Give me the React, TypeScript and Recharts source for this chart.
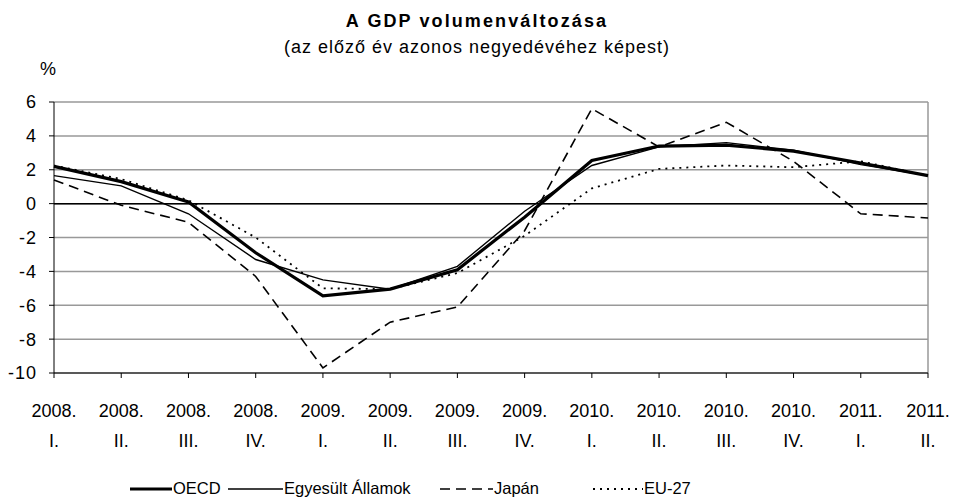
import React from "react";
import {
  LineChart,
  Line,
  XAxis,
  YAxis,
  CartesianGrid,
  ReferenceLine,
} from "recharts";

// quarters (year + roman quarter)
const years = [
  "2008.", "2008.", "2008.", "2008.",
  "2009.", "2009.", "2009.", "2009.",
  "2010.", "2010.", "2010.", "2010.",
  "2011.", "2011.",
];
const quarters = ["I.", "II.", "III.", "IV.", "I.", "II.", "III.", "IV.", "I.", "II.", "III.", "IV.", "I.", "II."];

const oecd = [2.2, 1.3, 0.1, -2.9, -5.45, -5.05, -3.9, -0.8, 2.55, 3.4, 3.45, 3.1, 2.4, 1.65];
const usa = [1.65, 1.05, -0.6, -3.3, -4.5, -5.05, -3.7, -0.45, 2.25, 3.35, 3.6, 3.15, 2.3, 1.65];
const japan = [1.4, -0.1, -1.1, -4.3, -9.7, -7.0, -6.1, -1.6, 5.6, 3.35, 4.8, 2.5, -0.6, -0.85];
const eu27 = [2.25, 1.45, 0.2, -2.0, -5.0, -5.05, -4.1, -1.9, 0.9, 2.05, 2.25, 2.15, 2.5, 1.65];

const yTicks = [-10, -8, -6, -4, -2, 0, 2, 4, 6];

const FONT = '"Liberation Sans", Arial, sans-serif';

const data = years.map((y, i) => ({
  key: `${y} ${quarters[i]}`,
  year: y,
  quarter: quarters[i],
  OECD: oecd[i],
  "Egyesült Államok": usa[i],
  "Japán": japan[i],
  "EU-27": eu27[i],
}));

const series = [
  { name: "OECD", width: 3.2, dash: undefined as string | undefined },
  { name: "Egyesült Államok", width: 1.4, dash: undefined as string | undefined },
  { name: "Japán", width: 1.6, dash: "10 6" },
  { name: "EU-27", width: 1.8, dash: "2 5" },
];

// legend layout (line start, line length)
const legendItems = [
  { name: "OECD", x: 130, len: 42 },
  { name: "Egyesült Államok", x: 228, len: 55 },
  { name: "Japán", x: 440, len: 53 },
  { name: "EU-27", x: 593, len: 50 },
];

const QuarterTick = (props: any) => {
  const { x, y, payload } = props;
  const row = data[payload.index] || data.find((d) => d.key === payload.value);
  return (
    <g transform={`translate(${x},${y})`}>
      <text x={0} y={39} textAnchor="middle" fontSize={18} fontFamily={FONT} fill="#000">
        {row ? row.year : ""}
      </text>
      <text x={0} y={69} textAnchor="middle" fontSize={18} fontFamily={FONT} fill="#000">
        {row ? row.quarter : ""}
      </text>
    </g>
  );
};

export default function App() {
  return (
    <div style={{ position: "absolute", left: 0, top: 0, width: 955, height: 497, background: "#fff" }}>
      <LineChart
        width={955}
        height={497}
        data={data}
        margin={{ top: 102, right: 27, left: 0, bottom: 94 }}
      >
        <CartesianGrid vertical={false} stroke="#999" strokeWidth={1.5} />
        <XAxis
          dataKey="key"
          height={30}
          interval={0}
          tick={<QuarterTick />}
          tickSize={5}
          tickMargin={0}
          stroke="#000"
          padding={{ left: 0, right: 0 }}
        />
        <YAxis
          width={54}
          domain={[-10, 6]}
          ticks={yTicks}
          interval={0}
          tickSize={5}
          tickMargin={12}
          stroke="#000"
          tick={{ fontSize: 18, fontFamily: FONT, fill: "#000", letterSpacing: 1 }}
        />
        <ReferenceLine y={0} stroke="#000" strokeWidth={1.5} />
        <ReferenceLine x={data[data.length - 1].key} stroke="#999" strokeWidth={1.5} />
        {series.map((s) => (
          <Line
            key={s.name}
            dataKey={s.name}
            type="linear"
            stroke="#000"
            strokeWidth={s.width}
            strokeDasharray={s.dash}
            dot={false}
            activeDot={false}
            isAnimationActive={false}
          />
        ))}
      </LineChart>
      <svg
        width={955}
        height={497}
        style={{ position: "absolute", left: 0, top: 0, pointerEvents: "none" }}
      >
        <text x={477} y={27} textAnchor="middle" fontSize={18} fontWeight="bold" fontFamily={FONT} letterSpacing={2.1}>
          A GDP volumenváltozása
        </text>
        <text x={477} y={53} textAnchor="middle" fontSize={18} fontFamily={FONT} letterSpacing={1}>
          (az előző év azonos negyedévéhez képest)
        </text>
        <text x={48} y={75} textAnchor="middle" fontSize={18} fontFamily={FONT}>
          %
        </text>
        {legendItems.map((it) => {
          const s = series.find((q) => q.name === it.name)!;
          return (
            <g key={it.name}>
              <line
                x1={it.x}
                x2={it.x + it.len}
                y1={489}
                y2={489}
                stroke="#000"
                strokeWidth={s.width}
                strokeDasharray={s.dash}
              />
              <text x={it.x + it.len + 1} y={494} fontSize={16.5} fontFamily={FONT}>
                {it.name}
              </text>
            </g>
          );
        })}
      </svg>
    </div>
  );
}
